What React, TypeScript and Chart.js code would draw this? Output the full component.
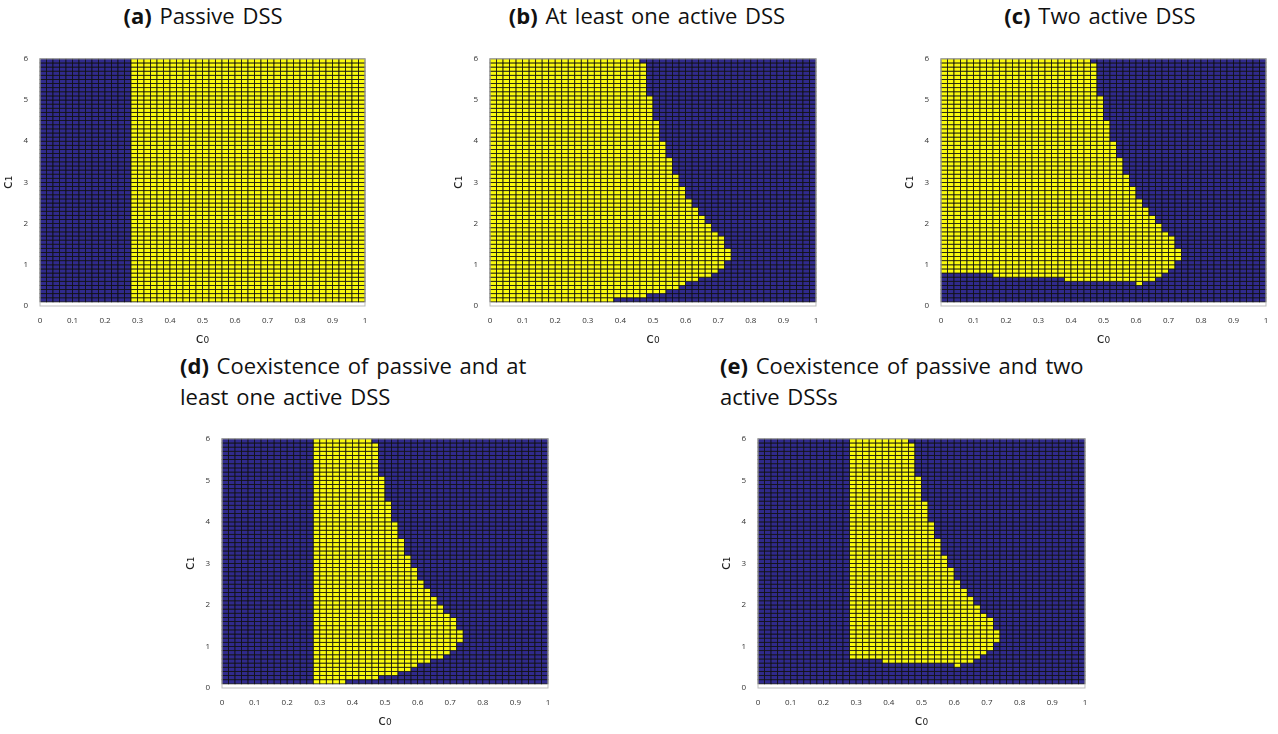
import React, { useEffect, useRef } from "react";
import { Chart, registerables } from "chart.js";

Chart.register(...registerables);

// grid of cells: c0 columns (left edge), c1 rows (bottom edge)
const C0_COLS = [
  0, 0.02, 0.04, 0.06, 0.08, 0.1, 0.12, 0.14, 0.16, 0.18, 0.2, 0.22, 0.24, 0.26, 0.28, 0.3, 0.32, 0.34,
  0.36, 0.38, 0.4, 0.42, 0.44, 0.46, 0.48, 0.5, 0.52, 0.54, 0.56, 0.58, 0.6, 0.62, 0.64, 0.66, 0.68,
  0.7, 0.72, 0.74, 0.76, 0.78, 0.8, 0.82, 0.84, 0.86, 0.88, 0.9, 0.92, 0.94, 0.96, 0.98,
];
const C1_ROWS = [
  0.1, 0.2, 0.3, 0.4, 0.5, 0.6, 0.7, 0.8, 0.9, 1.0, 1.1, 1.2, 1.3, 1.4, 1.5, 1.6, 1.7, 1.8, 1.9, 2.0,
  2.1, 2.2, 2.3, 2.4, 2.5, 2.6, 2.7, 2.8, 2.9, 3.0, 3.1, 3.2, 3.3, 3.4, 3.5, 3.6, 3.7, 3.8, 3.9, 4.0,
  4.1, 4.2, 4.3, 4.4, 4.5, 4.6, 4.7, 4.8, 4.9, 5.0, 5.1, 5.2, 5.3, 5.4, 5.5, 5.6, 5.7, 5.8, 5.9,
];
const X_TICKS = [0, 0.1, 0.2, 0.3, 0.4, 0.5, 0.6, 0.7, 0.8, 0.9, 1];
const Y_TICKS = [0, 1, 2, 3, 4, 5, 6];

// yellow region per c1 row: [left, right] in c0
const LEFT_A = [
  0.28, 0.28, 0.28, 0.28, 0.28, 0.28, 0.28, 0.28, 0.28, 0.28, 0.28, 0.28, 0.28, 0.28, 0.28, 0.28, 0.28, 0.28,
  0.28, 0.28, 0.28, 0.28, 0.28, 0.28, 0.28, 0.28, 0.28, 0.28, 0.28, 0.28, 0.28, 0.28, 0.28, 0.28, 0.28, 0.28,
  0.28, 0.28, 0.28, 0.28, 0.28, 0.28, 0.28, 0.28, 0.28, 0.28, 0.28, 0.28, 0.28, 0.28, 0.28, 0.28, 0.28, 0.28,
  0.28, 0.28, 0.28, 0.28, 0.28,
];
const RIGHT_A = [
  1, 1, 1, 1, 1, 1, 1, 1, 1, 1, 1, 1, 1, 1, 1, 1, 1, 1, 1, 1, 1, 1, 1, 1, 1, 1, 1, 1, 1, 1, 1, 1, 1, 1, 1, 1,
  1, 1, 1, 1, 1, 1, 1, 1, 1, 1, 1, 1, 1, 1, 1, 1, 1, 1, 1, 1, 1, 1, 1,
];
const LEFT_B = [
  0, 0, 0, 0, 0, 0, 0, 0, 0, 0, 0, 0, 0, 0, 0, 0, 0, 0, 0, 0, 0, 0, 0, 0, 0, 0, 0, 0, 0, 0, 0, 0, 0, 0, 0, 0,
  0, 0, 0, 0, 0, 0, 0, 0, 0, 0, 0, 0, 0, 0, 0, 0, 0, 0, 0, 0, 0, 0, 0,
];
const RIGHT_B = [
  0.38, 0.48, 0.54, 0.58, 0.6, 0.64, 0.68, 0.7, 0.72, 0.72, 0.74, 0.74, 0.74, 0.72, 0.72, 0.72, 0.7, 0.68,
  0.68, 0.66, 0.66, 0.64, 0.64, 0.62, 0.62, 0.6, 0.6, 0.6, 0.58, 0.58, 0.58, 0.56, 0.56, 0.56, 0.56, 0.54,
  0.54, 0.54, 0.54, 0.52, 0.52, 0.52, 0.52, 0.52, 0.5, 0.5, 0.5, 0.5, 0.5, 0.5, 0.48, 0.48, 0.48, 0.48,
  0.48, 0.48, 0.48, 0.48, 0.46,
];
const LEFT_C = [
  1, 1, 1, 1, 0.6, 0.38, 0.16, 0, 0, 0, 0, 0, 0, 0, 0, 0, 0, 0, 0, 0, 0, 0, 0, 0, 0, 0, 0, 0, 0, 0, 0, 0, 0,
  0, 0, 0, 0, 0, 0, 0, 0, 0, 0, 0, 0, 0, 0, 0, 0, 0, 0, 0, 0, 0, 0, 0, 0, 0, 0,
];
const RIGHT_C = [
  0, 0, 0, 0, 0.62, 0.66, 0.68, 0.7, 0.72, 0.72, 0.74, 0.74, 0.74, 0.72, 0.72, 0.72, 0.7, 0.68, 0.68, 0.66,
  0.66, 0.64, 0.64, 0.62, 0.62, 0.6, 0.6, 0.6, 0.58, 0.58, 0.58, 0.56, 0.56, 0.56, 0.56, 0.54, 0.54, 0.54,
  0.54, 0.52, 0.52, 0.52, 0.52, 0.52, 0.5, 0.5, 0.5, 0.5, 0.5, 0.5, 0.48, 0.48, 0.48, 0.48, 0.48, 0.48,
  0.48, 0.48, 0.46,
];
const LEFT_E = [
  1, 1, 1, 1, 0.6, 0.38, 0.28, 0.28, 0.28, 0.28, 0.28, 0.28, 0.28, 0.28, 0.28, 0.28, 0.28, 0.28, 0.28, 0.28,
  0.28, 0.28, 0.28, 0.28, 0.28, 0.28, 0.28, 0.28, 0.28, 0.28, 0.28, 0.28, 0.28, 0.28, 0.28, 0.28, 0.28, 0.28,
  0.28, 0.28, 0.28, 0.28, 0.28, 0.28, 0.28, 0.28, 0.28, 0.28, 0.28, 0.28, 0.28, 0.28, 0.28, 0.28, 0.28, 0.28,
  0.28, 0.28, 0.28,
];

const YELLOW = "#f9fa0f";
const NAVY = "#302a8c";
const FONT = "'Open Sans', 'DejaVu Sans', sans-serif";

const cellPlugin = {
  id: "cells",
  beforeDatasetsDraw(chart: any) {
    const { ctx, scales } = chart;
    const { left, right } = chart.options.plugins.cells;
    const x = scales.x;
    const y = scales.y;
    ctx.save();
    C1_ROWS.forEach((c1, i) => {
      const y0 = y.getPixelForValue(c1 + 0.1);
      const y1 = y.getPixelForValue(c1);
      C0_COLS.forEach((c0) => {
        const x0 = x.getPixelForValue(c0);
        const x1 = x.getPixelForValue(c0 + 0.02);
        const on = c0 >= left[i] - 1e-6 && c0 + 0.02 <= right[i] + 1e-6;
        ctx.fillStyle = on ? YELLOW : NAVY;
        ctx.fillRect(x0, y0, x1 - x0, y1 - y0);
        ctx.strokeStyle = "#111";
        ctx.lineWidth = 0.8;
        ctx.strokeRect(x0, y0, x1 - x0, y1 - y0);
      });
    });
    const a = chart.chartArea;
    ctx.strokeStyle = "#bdbdbd";
    ctx.lineWidth = 1;
    ctx.strokeRect(a.left, a.top, a.right - a.left, a.bottom - a.top);
    ctx.restore();
  },
};

function Panel(props: { left: number[]; right: number[]; x: number; y: number; w: number; h: number }) {
  const ref = useRef<HTMLCanvasElement>(null);
  useEffect(() => {
    if (!ref.current) return;
    const tickFont = { family: FONT, size: 8 };
    const titleFont = { family: "'DejaVu Sans'", size: 14 };
    const chart = new Chart(ref.current, {
      type: "scatter",
      data: { datasets: [{ data: [] }] },
      plugins: [cellPlugin],
      options: {
        animation: false,
        responsive: false,
        layout: { padding: { top: 8, right: 8, left: 0, bottom: 0 } },
        plugins: {
          legend: { display: false },
          tooltip: { enabled: false },
          cells: { left: props.left, right: props.right },
        } as any,
        scales: {
          x: {
            type: "linear",
            min: 0,
            max: 1,
            grid: { display: false },
            border: { display: false },
            afterBuildTicks: (s: any) => (s.ticks = X_TICKS.map((v) => ({ value: v }))),
            afterFit: (s: any) => (s.height = 42),
            ticks: { font: tickFont, color: "#333", padding: 2, callback: (v: any) => String(v) },
            title: { display: true, text: "c₀", font: titleFont, color: "#222", padding: 0 },
          },
          y: {
            type: "linear",
            min: 0,
            max: 6,
            grid: { display: false },
            border: { display: false },
            afterBuildTicks: (s: any) => (s.ticks = Y_TICKS.map((v) => ({ value: v }))),
            afterFit: (s: any) => (s.width = 40),
            ticks: { font: tickFont, color: "#333", padding: 4, callback: (v: any) => String(v) },
            title: { display: true, text: "c₁", font: titleFont, color: "#222", padding: 0 },
          },
        },
      },
    });
    return () => chart.destroy();
  }, []);
  return (
    <canvas
      ref={ref}
      width={props.w + 48}
      height={props.h + 50}
      style={{ position: "absolute", left: props.x - 40, top: props.y - 8, width: props.w + 48, height: props.h + 50 }}
    />
  );
}

function Title(props: { label: string; text: string; x: number; y: number; w?: number; center?: boolean }) {
  return (
    <div
      style={{
        position: "absolute",
        left: props.center ? props.x - 250 : props.x,
        top: props.y,
        width: props.w ?? 500,
        textAlign: props.center ? "center" : "left",
        fontFamily: FONT,
        fontSize: 22,
        lineHeight: "31px",
        color: "#111",
        wordSpacing: 2,
      }}
    >
      <b>{props.label}</b> {props.text}
    </div>
  );
}

export default function App() {
  return (
    <div style={{ position: "absolute", left: 0, top: 0, width: 1278, height: 734, background: "#fff" }}>
      <Title label="(a)" text="Passive DSS" x={203} y={0} center />
      <Title label="(b)" text="At least one active DSS" x={647} y={0} center />
      <Title label="(c)" text="Two active DSS" x={1100} y={0} center />
      <Title label="(d)" text="Coexistence of passive and at least one active DSS" x={180} y={350} w={395} />
      <Title label="(e)" text="Coexistence of passive and two active DSSs" x={720} y={350} w={375} />
      <Panel left={LEFT_A} right={RIGHT_A} x={40} y={58} w={325} h={248} />
      <Panel left={LEFT_B} right={RIGHT_B} x={490} y={58} w={326} h={248} />
      <Panel left={LEFT_C} right={RIGHT_C} x={941} y={58} w={325} h={248} />
      <Panel left={LEFT_A} right={RIGHT_B} x={222} y={438} w={326} h={250} />
      <Panel left={LEFT_E} right={RIGHT_C} x={758} y={438} w={327} h={250} />
    </div>
  );
}
